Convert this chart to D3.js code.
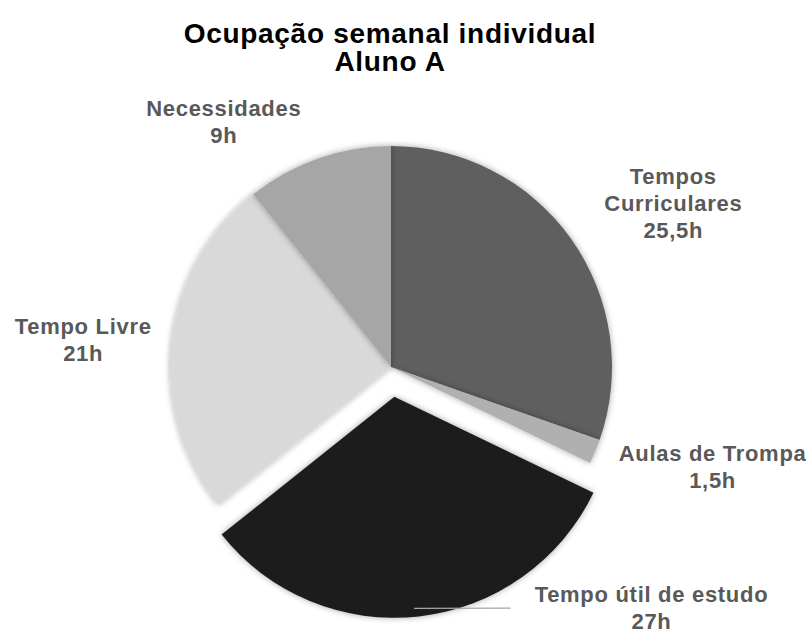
<!DOCTYPE html>
<html>
<head>
<meta charset="utf-8">
<script src="https://cdn.jsdelivr.net/npm/d3@7"></script>
<style>
  body { margin: 0; background: #fff; }
  text { font-family: "Liberation Sans", Arial, sans-serif; font-weight: bold; letter-spacing: 0.7px; }
</style>
</head>
<body>
<svg class="plot" width="811" height="633"></svg>
<script>
// chart data
var categories = ["Tempos Curriculares", "Aulas de Trompa", "Tempo útil de estudo", "Tempo Livre", "Necessidades"];
var hours = [25.5, 1.5, 27, 21, 9];
var valueLabels = ["25,5h", "1,5h", "27h", "21h", "9h"];
var labelLines = [["Tempos", "Curriculares"], ["Aulas de Trompa"], ["Tempo útil de estudo"], ["Tempo Livre"], ["Necessidades"]];
var colors = ["#5f5f5f", "#b0b0b0", "#1f1f1f", "#d9d9d9", "#a6a6a6"];
var exploded = "Tempo útil de estudo";

// label placement (angle in degrees clockwise from top, distance from centre)
var labelPlace = [[60, 326], [107.4, 337], [132.8, 355], [275, 309], [325.6, 296]];

var width = 811, height = 633;
var cx = 391, cy = 367, radius = 221, explode = 30;

var svg = d3.select(".plot");

var defs = svg.append("defs");
var f = defs.append("filter").attr("id", "shadow")
    .attr("x", "-20%").attr("y", "-20%").attr("width", "140%").attr("height", "140%");
f.append("feDropShadow").attr("dx", 0).attr("dy", 0)
    .attr("stdDeviation", 3).attr("flood-color", "#000").attr("flood-opacity", 0.35);

// title
var title = svg.append("text")
    .attr("x", 390).attr("y", 43)
    .attr("text-anchor", "middle")
    .style("font-size", "28px")
    .attr("fill", "#000");
title.append("tspan").attr("x", 390).text("Ocupação semanal individual");
title.append("tspan").attr("x", 390).attr("dy", 28).text("Aluno A");

var pie = d3.pie().sort(null).value(function(d){ return d; });
var arcs = pie(hours);
var arc = d3.arc().innerRadius(0).outerRadius(radius);

var g = svg.append("g").attr("transform", `translate(${cx}, ${cy})`);

g.selectAll("path")
    .data(arcs)
    .enter()
    .append("path")
    .attr("d", arc)
    .attr("fill", function(d, i){ return colors[i]; })
    .attr("filter", "url(#shadow)")
    .attr("transform", function(d, i){
        if (categories[i] !== exploded) return null;
        var a = (d.startAngle + d.endAngle) / 2;
        return `translate(${Math.sin(a) * explode}, ${-Math.cos(a) * explode})`;
    });

// leader line for the exploded slice
var ex = arcs[categories.indexOf(exploded)];
var exA = (ex.startAngle + ex.endAngle) / 2;
var lp = labelPlace[categories.indexOf(exploded)];
var p0x = Math.sin(exA) * (radius + explode), p0y = -Math.cos(exA) * (radius + explode) - 8;
var la = lp[0] * Math.PI / 180;
var lx = Math.sin(la) * lp[1], ly = -Math.cos(la) * lp[1];
g.append("line")
    .attr("x1", p0x - 5).attr("y1", p0y)
    .attr("x2", lx - 141).attr("y2", ly)
    .attr("stroke", "#a6a6a6").attr("stroke-width", 1.3);

// labels
arcs.forEach(function(d, i){
    var a = labelPlace[i][0] * Math.PI / 180;
    var x = Math.sin(a) * labelPlace[i][1];
    var y = -Math.cos(a) * labelPlace[i][1];
    var lines = labelLines[i].concat([valueLabels[i]]);
    var lh = 27;
    var t = g.append("text")
        .attr("text-anchor", "middle")
        .attr("fill", "#595959")
        .style("font-size", "22px");
    lines.forEach(function(s, k){
        t.append("tspan")
            .attr("x", x)
            .attr("y", y - (lines.length - 1) * lh / 2 + k * lh + 7)
            .text(s);
    });
});
</script>
</body>
</html>
